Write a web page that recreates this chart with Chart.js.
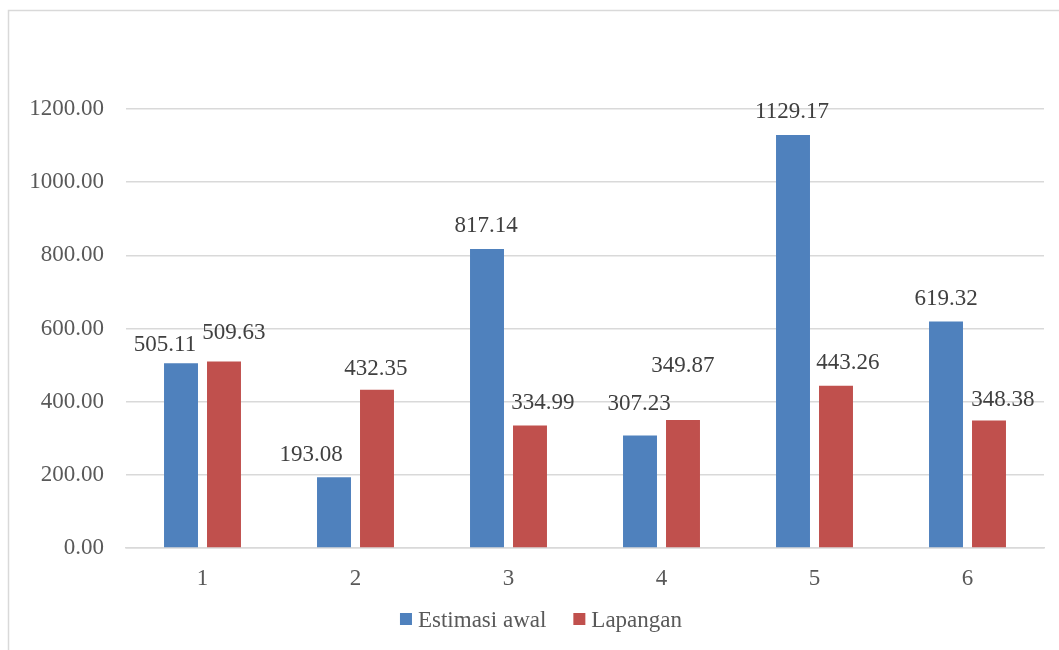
<!DOCTYPE html>
<html>
<head>
<meta charset="utf-8">
<title>Estimasi awal vs Lapangan</title>
<script src="https://cdn.jsdelivr.net/npm/chart.js@4/dist/chart.umd.min.js"></script>
<style>
  html, body { margin: 0; padding: 0; background: #ffffff; }
  #wrap { width: 1059px; height: 650px; position: relative; }
</style>
</head>
<body>
<div id="wrap"><canvas id="chart" width="1059" height="650"></canvas></div>
<script>
// Category labels and the two series
const categories = ['1', '2', '3', '4', '5', '6'];
const estimasiAwal = [505.11, 193.08, 817.14, 307.23, 1129.17, 619.32];
const lapangan = [509.63, 432.35, 334.99, 349.87, 443.26, 348.38];
const yTicks = [0, 200, 400, 600, 800, 1000, 1200];

const SERIF = '"Liberation Serif", "Times New Roman", serif';

// Hand-placed offsets (px) of each value label relative to the top centre of its bar
const labelNudge = [
  [[-16, -18], [-23, -22], [-1, -23], [-1, -32], [-1, -23], [0, -22]],
  [[10, -29], [-1, -21], [13, -22], [0, -54], [12, -23], [14, -21]]
];

// Thin frame along the top and left edges of the chart
const framePlugin = {
  id: 'frame',
  beforeDraw(chart) {
    const ctx = chart.ctx;
    ctx.save();
    ctx.strokeStyle = '#d9d9d9';
    ctx.lineWidth = 1.5;
    ctx.beginPath();
    ctx.moveTo(8.5, chart.height);
    ctx.lineTo(8.5, 10.5);
    ctx.lineTo(chart.width, 10.5);
    ctx.stroke();
    ctx.restore();
  }
};

// Value labels above the bars
const valueLabelPlugin = {
  id: 'valueLabels',
  afterDatasetsDraw(chart) {
    const ctx = chart.ctx;
    ctx.save();
    ctx.font = '23px ' + SERIF;
    ctx.fillStyle = '#404040';
    ctx.textAlign = 'center';
    ctx.textBaseline = 'middle';
    chart.data.datasets.forEach((ds, di) => {
      const meta = chart.getDatasetMeta(di);
      meta.data.forEach((bar, i) => {
        const n = labelNudge[di][i];
        ctx.fillText(ds.data[i].toFixed(2), bar.x + n[0], bar.y + n[1]);
      });
    });
    ctx.restore();
  }
};

// Legend row under the axis
const legendPlugin = {
  id: 'bottomLegend',
  afterDraw(chart) {
    const ctx = chart.ctx;
    ctx.save();
    ctx.font = '23px ' + SERIF;
    ctx.textBaseline = 'middle';
    ctx.textAlign = 'left';
    const box = 12, gapText = 6, gapItem = 27, cy = 619;
    const items = chart.data.datasets.map(ds => ({
      text: ds.label, color: ds.backgroundColor, w: ctx.measureText(ds.label).width
    }));
    let total = 0;
    items.forEach((it, i) => { total += box + gapText + it.w + (i ? gapItem : 0); });
    let x = 541 - total / 2;
    items.forEach((it) => {
      ctx.fillStyle = it.color;
      ctx.fillRect(x, cy - box / 2, box, box);
      ctx.fillStyle = '#595959';
      ctx.fillText(it.text, x + box + gapText, cy + 2);
      x += box + gapText + it.w + gapItem;
    });
    ctx.restore();
  }
};

new Chart(document.getElementById('chart'), {
  type: 'bar',
  data: {
    labels: categories,
    datasets: [
      { label: 'Estimasi awal', data: estimasiAwal, backgroundColor: '#4F81BD',
        barPercentage: 0.79, categoryPercentage: 0.562 },
      { label: 'Lapangan', data: lapangan, backgroundColor: '#C0504D',
        barPercentage: 0.79, categoryPercentage: 0.562 }
    ]
  },
  options: {
    responsive: false,
    animation: false,
    events: [],
    layout: { padding: { top: 109, right: 15, bottom: 0, left: 0 } },
    plugins: {
      legend: { display: false },
      tooltip: { enabled: false }
    },
    scales: {
      x: {
        grid: { display: false },
        border: { display: true, color: '#d9d9d9', width: 1.5 },
        ticks: { font: { family: SERIF, size: 23 }, color: '#595959', padding: 9 },
        afterFit(scale) { scale.height = 102; }
      },
      y: {
        min: 0,
        max: 1200,
        afterBuildTicks(scale) { scale.ticks = yTicks.map(v => ({ value: v })); },
        grid: { color: '#d9d9d9', lineWidth: 1.5, drawTicks: false },
        border: { display: false },
        ticks: {
          font: { family: SERIF, size: 23 },
          color: '#595959',
          padding: 22,
          callback: v => Number(v).toFixed(2)
        },
        afterFit(scale) { scale.width = 126; }
      }
    }
  },
  plugins: [framePlugin, valueLabelPlugin, legendPlugin]
});
</script>
</body>
</html>
